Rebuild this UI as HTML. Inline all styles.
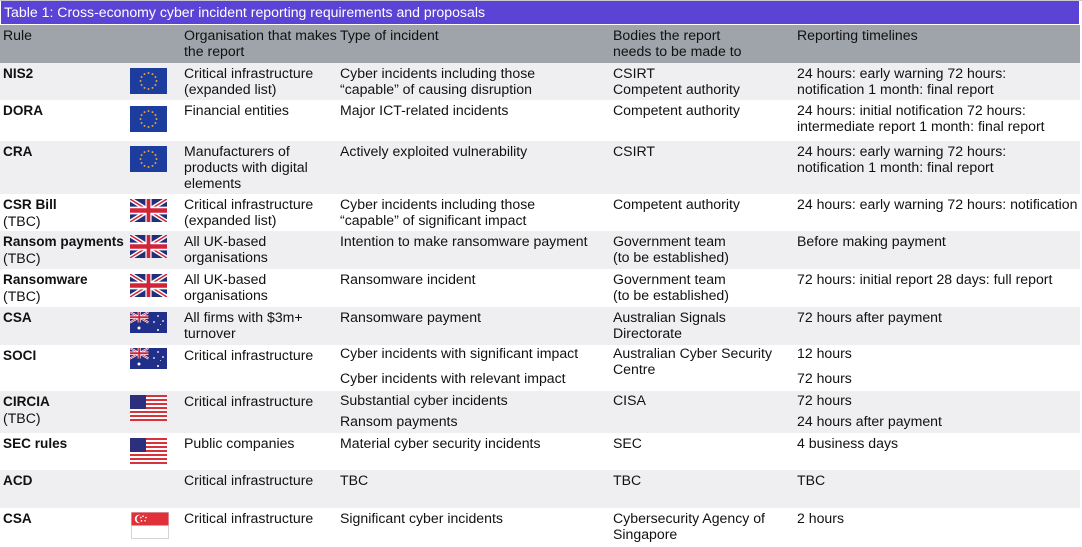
<!DOCTYPE html>
<html>
<head>
<meta charset="utf-8">
<style>
  html, body { margin:0; padding:0; }
  body { width:1082px; height:547px; overflow:hidden; background:#fff; position:relative;
         font-family:"Liberation Sans", Arial, sans-serif; font-size:14.1px; color:#111; }
  .title { position:absolute; left:1px; top:1px; width:1078px; height:23px; background:#5b44d5; color:#fff; }
  .title span { position:absolute; left:3px; top:3px; line-height:16px; white-space:nowrap; }
  .topline { position:absolute; left:0; top:0; width:1082px; height:1px; background:#c9c9cf; }
  .hdr { position:absolute; left:0; top:25px; width:1080px; height:38px; background:#9ea4a9; }
  .row { position:absolute; left:0; width:1080px; }
  .g { background:#efeff1; }
  .w { background:#fff; }
  .c { position:absolute; top:2px; line-height:16px; white-space:nowrap; }
  .c1 { left:3px; }
  .c2 { left:184px; }
  .c3 { left:340px; }
  .c4 { left:613px; }
  .c5 { left:797px; }
  b { font-weight:bold; font-size:13.6px; }
  .flag { position:absolute; left:130px; }
  svg { display:block; }
</style>
</head>
<body>
<div class="topline"></div>
<div class="title"><span>Table 1: Cross-economy cyber incident reporting requirements and proposals</span></div>

<div class="hdr">
  <div class="c c1">Rule</div>
  <div class="c c2">Organisation that makes<br>the report</div>
  <div class="c c3">Type of incident</div>
  <div class="c c4">Bodies the report<br>needs to be made to</div>
  <div class="c c5">Reporting timelines</div>
</div>

<!-- NIS2 -->
<div class="row g" style="top:63px;height:37px;">
  <div class="c c1"><b>NIS2</b></div>
  <div class="flag" style="top:5px;">
    <svg width="37" height="26" viewBox="0 0 37 26"><rect width="37" height="26" fill="#1c3c9e"/><g fill="#e2a236"><circle cx="18.5" cy="5" r="1"/><circle cx="22.5" cy="6.07" r="1"/><circle cx="25.43" cy="9" r="1"/><circle cx="26.5" cy="13" r="1"/><circle cx="25.43" cy="17" r="1"/><circle cx="22.5" cy="19.93" r="1"/><circle cx="18.5" cy="21" r="1"/><circle cx="14.5" cy="19.93" r="1"/><circle cx="11.57" cy="17" r="1"/><circle cx="10.5" cy="13" r="1"/><circle cx="11.57" cy="9" r="1"/><circle cx="14.5" cy="6.07" r="1"/></g></svg>
  </div>
  <div class="c c2">Critical infrastructure<br>(expanded list)</div>
  <div class="c c3">Cyber incidents including those<br>“capable” of causing disruption</div>
  <div class="c c4">CSIRT<br>Competent authority</div>
  <div class="c c5">24 hours: early warning 72 hours:<br>notification 1 month: final report</div>
</div>

<!-- DORA -->
<div class="row w" style="top:100px;height:41px;">
  <div class="c c1"><b>DORA</b></div>
  <div class="flag" style="top:6px;">
    <svg width="37" height="26" viewBox="0 0 37 26"><rect width="37" height="26" fill="#1c3c9e"/><g fill="#e2a236"><circle cx="18.5" cy="5" r="1"/><circle cx="22.5" cy="6.07" r="1"/><circle cx="25.43" cy="9" r="1"/><circle cx="26.5" cy="13" r="1"/><circle cx="25.43" cy="17" r="1"/><circle cx="22.5" cy="19.93" r="1"/><circle cx="18.5" cy="21" r="1"/><circle cx="14.5" cy="19.93" r="1"/><circle cx="11.57" cy="17" r="1"/><circle cx="10.5" cy="13" r="1"/><circle cx="11.57" cy="9" r="1"/><circle cx="14.5" cy="6.07" r="1"/></g></svg>
  </div>
  <div class="c c2">Financial entities</div>
  <div class="c c3">Major ICT-related incidents</div>
  <div class="c c4">Competent authority</div>
  <div class="c c5">24 hours: initial notification 72 hours:<br>intermediate report 1 month: final report</div>
</div>

<!-- CRA -->
<div class="row g" style="top:141px;height:53px;">
  <div class="c c1"><b>CRA</b></div>
  <div class="flag" style="top:5px;">
    <svg width="37" height="26" viewBox="0 0 37 26"><rect width="37" height="26" fill="#1c3c9e"/><g fill="#e2a236"><circle cx="18.5" cy="5" r="1"/><circle cx="22.5" cy="6.07" r="1"/><circle cx="25.43" cy="9" r="1"/><circle cx="26.5" cy="13" r="1"/><circle cx="25.43" cy="17" r="1"/><circle cx="22.5" cy="19.93" r="1"/><circle cx="18.5" cy="21" r="1"/><circle cx="14.5" cy="19.93" r="1"/><circle cx="11.57" cy="17" r="1"/><circle cx="10.5" cy="13" r="1"/><circle cx="11.57" cy="9" r="1"/><circle cx="14.5" cy="6.07" r="1"/></g></svg>
  </div>
  <div class="c c2">Manufacturers of<br>products with digital<br>elements</div>
  <div class="c c3">Actively exploited vulnerability</div>
  <div class="c c4">CSIRT</div>
  <div class="c c5">24 hours: early warning 72 hours:<br>notification 1 month: final report</div>
</div>

<!-- CSR Bill -->
<div class="row w" style="top:194px;height:37px;">
  <div class="c c1"><b>CSR Bill</b><br>(TBC)</div>
  <div class="flag" style="top:5px;">
    <svg width="37" height="23" viewBox="0 0 60 30" preserveAspectRatio="none"><rect width="60" height="30" fill="#1f2f7a"/><path d="M0,0 L60,30 M60,0 L0,30" stroke="#fff" stroke-width="6"/><path d="M0,0 L60,30 M60,0 L0,30" stroke="#d0243a" stroke-width="2"/><path d="M30,0 v30 M0,15 h60" stroke="#fff" stroke-width="10"/><path d="M30,0 v30 M0,15 h60" stroke="#d0243a" stroke-width="6"/></svg>
  </div>
  <div class="c c2">Critical infrastructure<br>(expanded list)</div>
  <div class="c c3">Cyber incidents including those<br>“capable” of significant impact</div>
  <div class="c c4">Competent authority</div>
  <div class="c c5">24 hours: early warning 72 hours: notification</div>
</div>

<!-- Ransom payments -->
<div class="row g" style="top:231px;height:38px;">
  <div class="c c1"><b>Ransom payments</b><br>(TBC)</div>
  <div class="flag" style="top:4px;">
    <svg width="37" height="23" viewBox="0 0 60 30" preserveAspectRatio="none"><rect width="60" height="30" fill="#1f2f7a"/><path d="M0,0 L60,30 M60,0 L0,30" stroke="#fff" stroke-width="6"/><path d="M0,0 L60,30 M60,0 L0,30" stroke="#d0243a" stroke-width="2"/><path d="M30,0 v30 M0,15 h60" stroke="#fff" stroke-width="10"/><path d="M30,0 v30 M0,15 h60" stroke="#d0243a" stroke-width="6"/></svg>
  </div>
  <div class="c c2">All UK-based<br>organisations</div>
  <div class="c c3">Intention to make ransomware payment</div>
  <div class="c c4">Government team<br>(to be established)</div>
  <div class="c c5">Before making payment</div>
</div>

<!-- Ransomware -->
<div class="row w" style="top:269px;height:38px;">
  <div class="c c1"><b>Ransomware</b><br>(TBC)</div>
  <div class="flag" style="top:5px;">
    <svg width="37" height="23" viewBox="0 0 60 30" preserveAspectRatio="none"><rect width="60" height="30" fill="#1f2f7a"/><path d="M0,0 L60,30 M60,0 L0,30" stroke="#fff" stroke-width="6"/><path d="M0,0 L60,30 M60,0 L0,30" stroke="#d0243a" stroke-width="2"/><path d="M30,0 v30 M0,15 h60" stroke="#fff" stroke-width="10"/><path d="M30,0 v30 M0,15 h60" stroke="#d0243a" stroke-width="6"/></svg>
  </div>
  <div class="c c2">All UK-based<br>organisations</div>
  <div class="c c3">Ransomware incident</div>
  <div class="c c4">Government team<br>(to be established)</div>
  <div class="c c5">72 hours: initial report 28 days: full report</div>
</div>

<!-- CSA (AU) -->
<div class="row g" style="top:307px;height:38px;">
  <div class="c c1"><b>CSA</b></div>
  <div class="flag" style="top:5px;">
    <svg width="37" height="21" viewBox="0 0 74 42" preserveAspectRatio="none"><rect width="74" height="42" fill="#1f2f8a"/><g transform="scale(0.6167,0.7)"><path d="M0,0 L60,30 M60,0 L0,30" stroke="#fff" stroke-width="6"/><path d="M0,0 L60,30 M60,0 L0,30" stroke="#d0243a" stroke-width="2"/><path d="M30,0 v30 M0,15 h60" stroke="#fff" stroke-width="10"/><path d="M30,0 v30 M0,15 h60" stroke="#d0243a" stroke-width="6"/></g><g fill="#fff"><circle cx="18" cy="32" r="3"/><circle cx="56" cy="8" r="1.8"/><circle cx="66" cy="18" r="1.8"/><circle cx="48" cy="20" r="1.8"/><circle cx="56" cy="36" r="2"/><circle cx="61" cy="25" r="1"/></g></svg>
  </div>
  <div class="c c2">All firms with $3m+<br>turnover</div>
  <div class="c c3">Ransomware payment</div>
  <div class="c c4">Australian Signals<br>Directorate</div>
  <div class="c c5">72 hours after payment</div>
</div>

<!-- SOCI -->
<div class="row w" style="top:345px;height:46px;">
  <div class="c c1"><b>SOCI</b></div>
  <div class="flag" style="top:3px;">
    <svg width="37" height="21" viewBox="0 0 74 42" preserveAspectRatio="none"><rect width="74" height="42" fill="#1f2f8a"/><g transform="scale(0.6167,0.7)"><path d="M0,0 L60,30 M60,0 L0,30" stroke="#fff" stroke-width="6"/><path d="M0,0 L60,30 M60,0 L0,30" stroke="#d0243a" stroke-width="2"/><path d="M30,0 v30 M0,15 h60" stroke="#fff" stroke-width="10"/><path d="M30,0 v30 M0,15 h60" stroke="#d0243a" stroke-width="6"/></g><g fill="#fff"><circle cx="18" cy="32" r="3"/><circle cx="56" cy="8" r="1.8"/><circle cx="66" cy="18" r="1.8"/><circle cx="48" cy="20" r="1.8"/><circle cx="56" cy="36" r="2"/><circle cx="61" cy="25" r="1"/></g></svg>
  </div>
  <div class="c c2">Critical infrastructure</div>
  <div class="c c3" style="top:0px;">Cyber incidents with significant impact</div>
  <div class="c c3" style="top:25px;">Cyber incidents with relevant impact</div>
  <div class="c c4" style="top:0px;">Australian Cyber Security<br>Centre</div>
  <div class="c c5" style="top:0px;">12 hours</div>
  <div class="c c5" style="top:25px;">72 hours</div>
</div>

<!-- CIRCIA -->
<div class="row g" style="top:391px;height:42px;">
  <div class="c c1"><b>CIRCIA</b><br>(TBC)</div>
  <div class="flag" style="top:4px;">
    <svg width="37" height="26" viewBox="0 0 37 26"><rect width="37" height="26" fill="#fff"/><g fill="#d8323a"><rect y="0" width="37" height="2"/><rect y="4" width="37" height="2"/><rect y="8" width="37" height="2"/><rect y="12" width="37" height="2"/><rect y="16" width="37" height="2"/><rect y="20" width="37" height="2"/><rect y="24" width="37" height="2"/></g><rect width="16" height="14" fill="#2c2f7e"/></svg>
  </div>
  <div class="c c2">Critical infrastructure</div>
  <div class="c c3" style="top:1px;">Substantial cyber incidents</div>
  <div class="c c3" style="top:22px;">Ransom payments</div>
  <div class="c c4" style="top:1px;">CISA</div>
  <div class="c c5" style="top:1px;">72 hours</div>
  <div class="c c5" style="top:22px;">24 hours after payment</div>
</div>

<!-- SEC rules -->
<div class="row w" style="top:433px;height:37px;">
  <div class="c c1"><b>SEC rules</b></div>
  <div class="flag" style="top:5px;">
    <svg width="37" height="26" viewBox="0 0 37 26"><rect width="37" height="26" fill="#fff"/><g fill="#d8323a"><rect y="0" width="37" height="2"/><rect y="4" width="37" height="2"/><rect y="8" width="37" height="2"/><rect y="12" width="37" height="2"/><rect y="16" width="37" height="2"/><rect y="20" width="37" height="2"/><rect y="24" width="37" height="2"/></g><rect width="16" height="14" fill="#2c2f7e"/></svg>
  </div>
  <div class="c c2">Public companies</div>
  <div class="c c3">Material cyber security incidents</div>
  <div class="c c4">SEC</div>
  <div class="c c5">4 business days</div>
</div>

<!-- ACD -->
<div class="row g" style="top:470px;height:38px;">
  <div class="c c1"><b>ACD</b></div>
  <div class="c c2">Critical infrastructure</div>
  <div class="c c3">TBC</div>
  <div class="c c4">TBC</div>
  <div class="c c5">TBC</div>
</div>

<!-- CSA (SG) -->
<div class="row w" style="top:508px;height:39px;">
  <div class="c c1"><b>CSA</b></div>
  <div class="flag" style="top:4px;left:131px;">
    <svg width="38" height="27" viewBox="0 0 38 27"><rect x="0.5" y="0.5" width="37" height="26" fill="#fff" stroke="#d4d4d4"/><rect x="0.5" y="0.5" width="37" height="13" fill="#e0313a"/><circle cx="8" cy="7" r="4.2" fill="#fff"/><circle cx="9.6" cy="7" r="4" fill="#e0313a"/><g fill="#fff"><circle cx="12" cy="4.2" r="0.8"/><circle cx="15" cy="5.6" r="0.8"/><circle cx="14" cy="8.8" r="0.8"/><circle cx="10.5" cy="8.8" r="0.8"/><circle cx="9.8" cy="5.6" r="0.8"/></g></svg>
  </div>
  <div class="c c2">Critical infrastructure</div>
  <div class="c c3">Significant cyber incidents</div>
  <div class="c c4">Cybersecurity Agency of<br>Singapore</div>
  <div class="c c5">2 hours</div>
</div>
</body>
</html>
